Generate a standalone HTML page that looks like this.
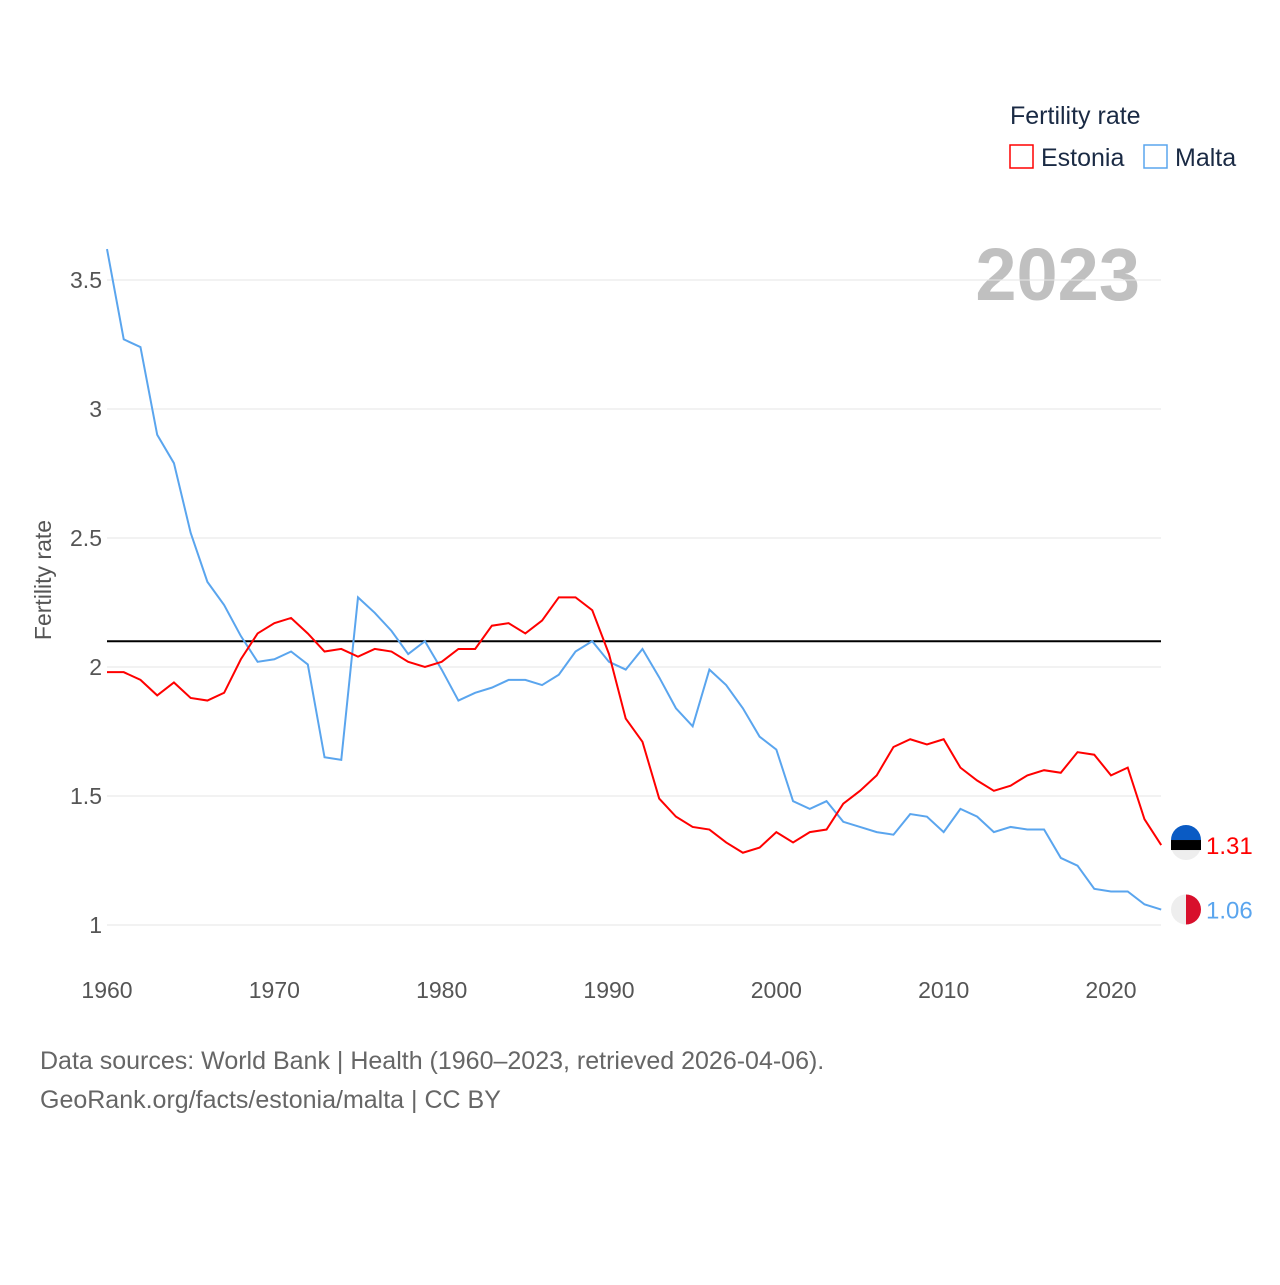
<!DOCTYPE html>
<html><head><meta charset="utf-8"><style>
body{margin:0;background:#fff;width:1280px;height:1280px;overflow:hidden;font-family:"Liberation Sans",sans-serif}
svg text{font-family:"Liberation Sans",sans-serif}
</style></head><body>
<svg id="chart" width="1280" height="1280">
<text x="1010" y="124" font-size="25" fill="#1a2a44">Fertility rate</text>
<g><rect x="1010" y="145" width="23" height="23" fill="none" stroke="#f00" stroke-width="1.5"/><text x="1041" y="166" font-size="25" fill="#1a2a44">Estonia</text></g>
<g><rect x="1144" y="145" width="23" height="23" fill="none" stroke="#5aa5ee" stroke-width="1.5"/><text x="1175" y="166" font-size="25" fill="#1a2a44">Malta</text></g>
<text x="1140" y="300" font-size="74" font-weight="bold" fill="#c0c0c0" text-anchor="end">2023</text>
<text transform="translate(51,580) rotate(-90)" font-size="23" fill="#555" text-anchor="middle">Fertility rate</text>
<g id="grid"></g><g id="series"></g>
<text x="40" y="1069" font-size="25" fill="#666">Data sources: World Bank | Health (1960–2023, retrieved 2026-04-06).</text>
<text x="40" y="1108" font-size="25" fill="#666">GeoRank.org/facts/estonia/malta | CC BY</text>
</svg>
<script>
const years=[];for(let y=1960;y<=2023;y++)years.push(y);
const estonia=[1.98,1.98,1.95,1.89,1.94,1.88,1.87,1.90,2.03,2.13,2.17,2.19,2.13,2.06,2.07,2.04,2.07,2.06,2.02,2.00,2.02,2.07,2.07,2.16,2.17,2.13,2.18,2.27,2.27,2.22,2.05,1.80,1.71,1.49,1.42,1.38,1.37,1.32,1.28,1.30,1.36,1.32,1.36,1.37,1.47,1.52,1.58,1.69,1.72,1.70,1.72,1.61,1.56,1.52,1.54,1.58,1.60,1.59,1.67,1.66,1.58,1.61,1.41,1.31];
const malta=[3.62,3.27,3.24,2.90,2.79,2.52,2.33,2.24,2.12,2.02,2.03,2.06,2.01,1.65,1.64,2.27,2.21,2.14,2.05,2.10,1.99,1.87,1.90,1.92,1.95,1.95,1.93,1.97,2.06,2.10,2.02,1.99,2.07,1.96,1.84,1.77,1.99,1.93,1.84,1.73,1.68,1.48,1.45,1.48,1.40,1.38,1.36,1.35,1.43,1.42,1.36,1.45,1.42,1.36,1.38,1.37,1.37,1.26,1.23,1.14,1.13,1.13,1.08,1.06];
const yTicks=[1,1.5,2,2.5,3,3.5];
const yTickLabels=["1","1.5","2","2.5","3","3.5"];
const xTicks=[1960,1970,1980,1990,2000,2010,2020];
const refValue=2.1;
const X=y=>107+(y-1960)*1004/60;
const Y=v=>925-(v-1)*258;
const NS="http://www.w3.org/2000/svg";
const g=document.getElementById('grid'),s=document.getElementById('series');
function mk(p,tag,a){const e=document.createElementNS(NS,tag);for(const k in a)e.setAttribute(k,a[k]);p.appendChild(e);return e;}
yTicks.forEach((v,i)=>{
 const l=mk(g,'line',{x1:107,x2:1161,y1:Y(v),y2:Y(v),stroke:'#e6e6e6'});
 
 
 const t=mk(g,'text',{x:102,y:Y(v)+8,'font-size':23,fill:'#555','text-anchor':'end'});t.textContent=yTickLabels[i];
 
 
});
xTicks.forEach(v=>{
 const t=mk(g,'text',{x:X(v),y:998,'font-size':23,fill:'#555','text-anchor':'middle'});t.textContent=v;
 
 
});
const rl=mk(g,'line',{x1:107,x2:1161,y1:Y(refValue),y2:Y(refValue),stroke:'#000','stroke-width':2});


function line(d,c,n){
 const p=mk(s,'polyline',{points:d.map((v,i)=>X(years[i])+','+Y(v)).join(' '),fill:'none',stroke:c,'stroke-width':2});
 
 
}
line(malta,'#5aa5ee','malta-line');line(estonia,'#f00','estonia-line');
function end(d,c,n,flag){
 const v=d[d.length-1],cx=1186,cy=Y(v);
 const gg=mk(s,'g',{});
 
 
 if(flag==='ee'){mk(gg,'circle',{cx,cy,r:15,fill:'#eee'});mk(gg,'path',{d:`M${cx-15},${cy-5} A15,15 0 0 1 ${cx+15},${cy-5}Z`,fill:'#0a5bc4'});mk(gg,'rect',{x:cx-15,y:cy-5,width:30,height:10,fill:'#000'});}
 else{mk(gg,'circle',{cx,cy,r:15,fill:'#eee'});mk(gg,'path',{d:`M${cx},${cy-15} A15,15 0 0 1 ${cx},${cy+15}Z`,fill:'#d80f2c'});}
 const t=mk(gg,'text',{x:1206,y:cy+9,'font-size':24,fill:c});t.textContent=v.toFixed(2);
}
end(estonia,'#f00','estonia','ee');end(malta,'#5aa5ee','malta','mt');
</script>
</body></html>
